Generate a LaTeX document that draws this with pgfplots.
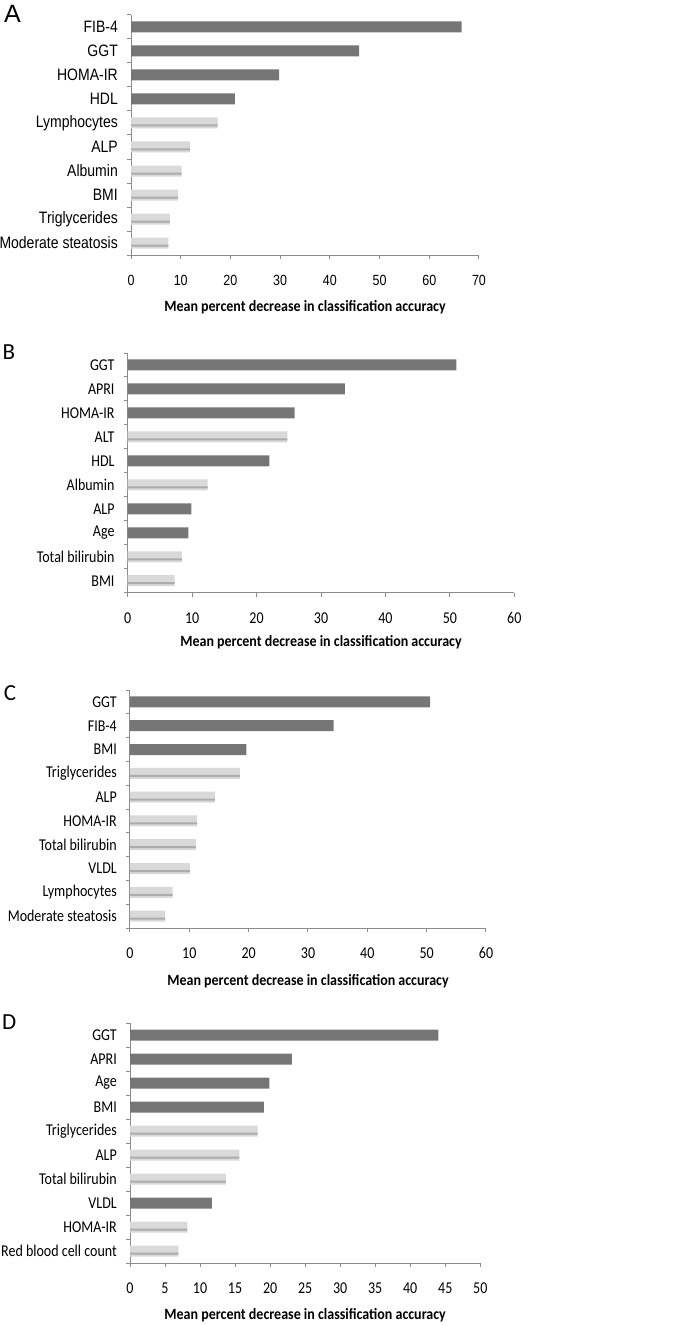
\documentclass[border=0pt]{standalone}
\usepackage{fontspec}
\setmainfont{Carlito}
\newfontfamily\arialf{Liberation Sans}
\usepackage{pgfplots}
\usepackage{pgfplotstable}
\pgfplotsset{compat=1.18}

\definecolor{barD}{RGB}{118,118,118}
\definecolor{barL}{RGB}{217,217,217}
\definecolor{barS}{RGB}{172,172,172}
\definecolor{axisG}{RGB}{140,140,140}

% pos: 9 = top category
\pgfplotstableread{
pos v
9 66.5
8 45.9
7 29.8
6 20.9
}\Adark
\pgfplotstableread{
pos v
5 17.4
4 11.9
3 10.2
2 9.5
1 7.8
0 7.5
}\Alight
\pgfplotstableread{
pos v
9 51.0
8 33.7
7 25.9
5 22.0
3 9.9
2 9.4
}\Bdark
\pgfplotstableread{
pos v
6 24.8
4 12.4
1 8.4
0 7.3
}\Blight
\pgfplotstableread{
pos v
9 50.6
8 34.3
7 19.6
}\Cdark
\pgfplotstableread{
pos v
6 18.5
5 14.3
4 11.3
3 11.1
2 10.1
1 7.2
0 5.9
}\Clight
\pgfplotstableread{
pos v
9 44.0
8 23.1
7 19.9
6 19.1
2 11.7
}\Ddark
\pgfplotstableread{
pos v
5 18.2
4 15.6
3 13.7
1 8.2
0 6.9
}\Dlight

\pgfplotsset{
  panel/.style={
    scale only axis,
    xmin=0, ymin=-0.5, ymax=9.5,
    axis x line=bottom, axis y line=left,
    axis line style={-, draw=axisG, line width=1pt},
    tick style={draw=axisG, line width=1pt},
    tick align=outside,
    major tick length=4pt, minor tick length=4pt,
    ytick={0,...,9},
    minor ytick={-0.5,0.5,...,9.5},
    major y tick style={draw=none},
    xtick distance=10,
    /pgf/number format/assume math mode=true,
    yticklabel style={inner sep=0pt, anchor=east, xshift=-9pt, yscale=1.18},
    xticklabel style={inner sep=0pt, anchor=center, yshift=-21pt, yscale=1.18},
    xlabel={\bfseries Mean percent decrease in classification accuracy},
    xlabel style={font=\fontsize{14}{16}\selectfont, inner sep=0pt,
      at={(axis description cs:0.5,0)}, anchor=center},
    clip=false,
  },
  dark/.style={xbar, bar shift=0pt, bar width=11pt, fill=barD, draw=none},
  light/.style={xbar, bar shift=0pt, bar width=11pt, fill=barL, draw=none},
  stripe/.style={xbar, bar shift=-2.5pt, bar width=2pt, fill=barS, draw=none},
}

\begin{document}
\begin{tikzpicture}
\path[use as bounding box] (0pt,0pt) rectangle (682pt,-1325pt);

% ---- A
\node[font=\arialf\fontsize{25}{28}\selectfont, inner sep=0pt] at (12.5pt,-13.5pt) {A};
\begin{axis}[panel,
  at={(131pt,-255pt)}, anchor=south west,
  width=348pt, height=240pt, xmax=70,
  yticklabels={Moderate steatosis, Triglycerides, BMI, Albumin, ALP,
    Lymphocytes, HDL, HOMA-IR, GGT, FIB-4},
  yticklabel style={font=\arialf\fontsize{14}{16}\selectfont},
  xticklabel style={font=\arialf\fontsize{12.5}{15}\selectfont},
  xlabel style={yshift=-52pt, yscale=1.12},
]
\addplot[dark] table[x=v, y=pos] {\Adark};
\addplot[light] table[x=v, y=pos] {\Alight};
\addplot[stripe] table[x=v, y=pos] {\Alight};
\end{axis}

% ---- B
\node[font=\fontsize{23}{26}\selectfont, inner sep=0pt] at (9pt,-352.5pt) {B};
\begin{axis}[panel,
  at={(127.7pt,-592.7pt)}, anchor=south west,
  width=386.6pt, height=239.7pt, xmax=60,
  yticklabels={BMI, Total bilirubin, Age, ALP, Albumin, HDL, ALT,
    HOMA-IR, APRI, GGT},
  tick label style={font=\fontsize{14}{16}\selectfont},
  xlabel style={yshift=-50pt, yscale=1.12},
]
\addplot[dark] table[x=v, y=pos] {\Bdark};
\addplot[light] table[x=v, y=pos] {\Blight};
\addplot[stripe] table[x=v, y=pos] {\Blight};
\end{axis}

% ---- C
\node[font=\fontsize{23}{26}\selectfont, inner sep=0pt] at (10pt,-693pt) {C};
\begin{axis}[panel,
  at={(130pt,-928pt)}, anchor=south west,
  width=356pt, height=238pt, xmax=60,
  yticklabels={Moderate steatosis, Lymphocytes, VLDL, Total bilirubin,
    HOMA-IR, ALP, Triglycerides, BMI, FIB-4, GGT},
  tick label style={font=\fontsize{14}{16}\selectfont},
  xlabel style={yshift=-53pt, yscale=1.12},
]
\addplot[dark] table[x=v, y=pos] {\Cdark};
\addplot[light] table[x=v, y=pos] {\Clight};
\addplot[stripe] table[x=v, y=pos] {\Clight};
\end{axis}

% ---- D
\node[font=\fontsize{23}{26}\selectfont, inner sep=0pt] at (9.3pt,-1021.7pt) {D};
\begin{axis}[panel,
  at={(130pt,-1263pt)}, anchor=south west,
  width=350.3pt, height=240pt, xmax=50, xtick distance=5,
  yticklabels={Red blood cell count, HOMA-IR, VLDL, Total bilirubin, ALP,
    Triglycerides, BMI, Age, APRI, GGT},
  tick label style={font=\fontsize{14}{16}\selectfont},
  xlabel style={yshift=-52pt, yscale=1.12},
]
\addplot[dark] table[x=v, y=pos] {\Ddark};
\addplot[light] table[x=v, y=pos] {\Dlight};
\addplot[stripe] table[x=v, y=pos] {\Dlight};
\end{axis}
\end{tikzpicture}
\end{document}
